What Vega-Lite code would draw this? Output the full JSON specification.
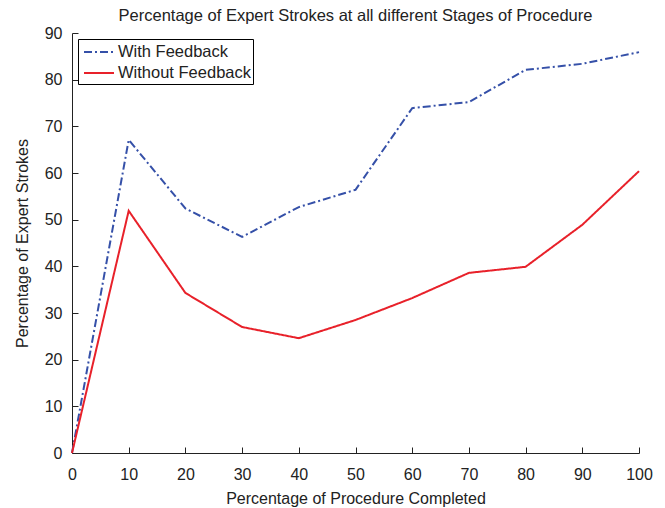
{
  "$schema": "https://vega.github.io/schema/vega-lite/v6.json",
  "width": 567,
  "height": 420,
  "autosize": {"type": "none"},
  "padding": {"left": 72, "top": 33, "right": 26, "bottom": 55},
  "background": "white",
  "config": {
    "font": "Liberation Sans",
    "view": {"stroke": null},
    "axis": {"grid": false, "domainColor": "#222", "tickColor": "#222", "labelColor": "#222", "titleColor": "#222", "labelFontSize": 16, "titleFontSize": 16, "titleFontWeight": "normal", "tickSize": -6, "domainWidth": 1, "labelFlush": false, "labelOverlap": false}
  },
  "title": {"text": "Percentage of Expert Strokes at all different Stages of Procedure", "fontSize": 16.5, "fontWeight": "normal", "color": "#222", "offset": 1, "font": "Liberation Sans"},
  "data": {"values": [
    {"x": 0, "y": 0, "s": "With Feedback"},
    {"x": 10, "y": 67.1, "s": "With Feedback"},
    {"x": 20, "y": 52.4, "s": "With Feedback"},
    {"x": 30, "y": 46.3, "s": "With Feedback"},
    {"x": 40, "y": 52.7, "s": "With Feedback"},
    {"x": 50, "y": 56.4, "s": "With Feedback"},
    {"x": 60, "y": 73.9, "s": "With Feedback"},
    {"x": 70, "y": 75.2, "s": "With Feedback"},
    {"x": 80, "y": 82.1, "s": "With Feedback"},
    {"x": 90, "y": 83.4, "s": "With Feedback"},
    {"x": 100, "y": 85.9, "s": "With Feedback"},
    {"x": 0, "y": 0, "s": "Without Feedback"},
    {"x": 10, "y": 51.9, "s": "Without Feedback"},
    {"x": 20, "y": 34.3, "s": "Without Feedback"},
    {"x": 30, "y": 27.0, "s": "Without Feedback"},
    {"x": 40, "y": 24.6, "s": "Without Feedback"},
    {"x": 50, "y": 28.5, "s": "Without Feedback"},
    {"x": 60, "y": 33.2, "s": "Without Feedback"},
    {"x": 70, "y": 38.6, "s": "Without Feedback"},
    {"x": 80, "y": 39.9, "s": "Without Feedback"},
    {"x": 90, "y": 48.9, "s": "Without Feedback"},
    {"x": 100, "y": 60.4, "s": "Without Feedback"}
  ]},
  "mark": {"type": "line", "strokeWidth": 2},
  "encoding": {
    "x": {"field": "x", "type": "quantitative", "scale": {"domain": [0, 100], "nice": false}, "axis": {"values": [0,10,20,30,40,50,60,70,80,90,100], "title": "Percentage of Procedure Completed", "labelPadding": 19, "titlePadding": 8}},
    "y": {"field": "y", "type": "quantitative", "scale": {"domain": [0, 90], "nice": false}, "axis": {"values": [0,10,20,30,40,50,60,70,80,90], "title": "Percentage of Expert Strokes", "labelPadding": 16, "titlePadding": 14}},
    "color": {"field": "s", "type": "nominal", "scale": {"domain": ["With Feedback", "Without Feedback"], "range": ["#3550a8", "#e8212a"]}, "legend": {"title": null, "orient": "none", "legendX": 6, "legendY": 6, "strokeColor": "#000", "fillColor": "white", "padding": 2, "labelFontSize": 16.5, "labelColor": "#222", "symbolType": "M-1.5,0H1.5", "symbolSize": 400, "symbolStrokeWidth": 2, "symbolOffset": 8, "rowPadding": 1, "labelOffset": 8}},
    "strokeDash": {"field": "s", "type": "nominal", "scale": {"domain": ["With Feedback", "Without Feedback"], "range": [[8, 3, 2, 3], [1, 0]]}, "legend": null}
  }
}
